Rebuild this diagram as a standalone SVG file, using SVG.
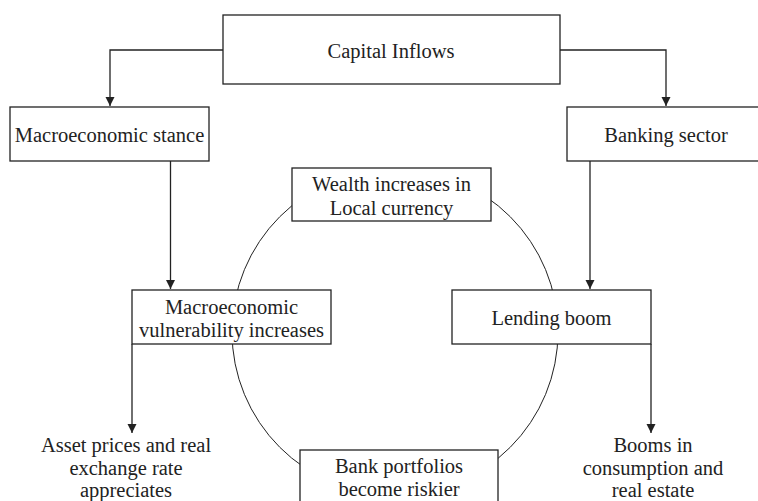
<svg xmlns="http://www.w3.org/2000/svg" width="758" height="501" viewBox="0 0 758 501">
<defs>
<marker id="arr" markerWidth="10" markerHeight="10" refX="9" refY="5" orient="auto" markerUnits="userSpaceOnUse">
<path d="M0,0.5 L9,5 L0,9.5 Z" fill="#222"/>
</marker>
<style>
.box{fill:#fff;stroke:#222;stroke-width:1.3}
.ln{fill:none;stroke:#222;stroke-width:1.3}
.circ{fill:none;stroke:#222;stroke-width:1}
text{font-family:"Liberation Serif","Times New Roman",serif;font-size:20.5px;fill:#222;text-anchor:middle}
</style>
</defs>
<rect width="758" height="501" fill="#fff"/>
<circle class="circ" cx="395" cy="332" r="163"/>
<g id="connectors">
<path class="ln" d="M223,50 H110 V106" marker-end="url(#arr)"/>
<path class="ln" d="M560,50 H666 V106" marker-end="url(#arr)"/>
<path class="ln" d="M170.5,161 V289" marker-end="url(#arr)"/>
<path class="ln" d="M590,161 V289" marker-end="url(#arr)"/>
<path class="ln" d="M132,344 V433" marker-end="url(#arr)"/>
<path class="ln" d="M651,344 V433" marker-end="url(#arr)"/>
</g>
<g id="capital-inflows">
<rect class="box" x="223" y="15" width="337" height="69"/>
<text x="391" y="58">Capital Inflows</text>
</g>
<g id="macro-stance">
<rect class="box" x="10" y="107" width="199" height="54"/>
<text x="109.5" y="142">Macroeconomic stance</text>
</g>
<g id="banking-sector">
<rect class="box" x="567" y="107" width="195" height="54"/>
<text x="666" y="142">Banking sector</text>
</g>
<g id="wealth">
<rect class="box" x="292" y="168" width="199" height="53"/>
<text x="391.5" y="191">Wealth increases in</text>
<text x="391.5" y="215">Local currency</text>
</g>
<g id="macro-vuln">
<rect class="box" x="132" y="290" width="199" height="54"/>
<text x="231.5" y="314">Macroeconomic</text>
<text x="231.5" y="337">vulnerability increases</text>
</g>
<g id="lending-boom">
<rect class="box" x="452" y="290" width="199" height="54"/>
<text x="551.5" y="325">Lending boom</text>
</g>
<g id="asset-prices">
<text x="126" y="452">Asset prices and real</text>
<text x="126" y="475">exchange rate</text>
<text x="126" y="497">appreciates</text>
</g>
<g id="bank-portfolios">
<rect class="box" x="300" y="450" width="198" height="60"/>
<text x="399" y="473">Bank portfolios</text>
<text x="399" y="496">become riskier</text>
</g>
<g id="booms">
<text x="653" y="452">Booms in</text>
<text x="653" y="475">consumption and</text>
<text x="653" y="497">real estate</text>
</g>
</svg>
